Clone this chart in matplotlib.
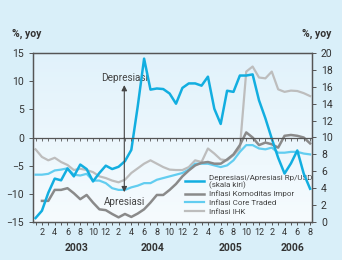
import numpy as np
import matplotlib
matplotlib.use("Agg")
import matplotlib.pyplot as plt
from matplotlib.lines import Line2D
from matplotlib.colors import LinearSegmentedColormap

# months from Jan 2003 (0) to Aug 2006 (43)
months = np.arange(44)
month_labels = ["" if (m % 12 + 1) % 2 else str(m % 12 + 1) for m in months]
years = ["2003", "2004", "2005", "2006"]
year_pos = [6.5, 18.4, 30.5, 40.3]

# left axis: depreciation/appreciation Rp/USD
kurs = [-14.3, -13.0, -9.8, -7.3, -7.6, -5.5, -6.9, -4.8, -5.6, -7.8, -6.3, -5.0,
        -5.6, -5.2, -4.2, -2.2, 5.5, 14.0, 8.5, 8.7, 8.6, 7.8, 6.0, 8.8,
        9.6, 9.6, 9.2, 10.8, 5.1, 2.4, 8.3, 8.1, 11.0, 11.0, 11.2, 6.6,
        3.4, -0.2, -3.6, -6.4, -4.6, -2.3, -6.4, -9.1]

# right axis: inflation series
impor = [np.nan, 2.5, 2.5, 3.8, 3.8, 4.0, 3.4, 2.7, 3.2, 2.3, 1.5, 1.4,
         0.95, 0.55, 0.95, 0.6, 1.0, 1.5, 2.3, 3.2, 3.2, 3.8, 4.5, 5.4,
         6.1, 6.7, 7.0, 7.1, 6.9, 6.9, 7.4, 8.0, 9.1, 10.6, 10.0, 9.1,
         9.4, 9.2, 8.8, 10.2, 10.3, 10.2, 10.0, 9.3]
core = [5.6, 5.6, 5.7, 6.1, 6.2, 6.35, 5.6, 5.5, 5.7, 4.9, 4.9, 4.6,
        4.0, 3.8, 3.8, 4.1, 4.3, 4.6, 4.6, 5.0, 5.2, 5.4, 5.6, 5.8,
        6.2, 6.9, 6.9, 6.9, 6.7, 6.5, 6.7, 7.3, 8.3, 9.1, 9.1, 8.7,
        8.6, 8.8, 8.2, 8.2, 8.3, 8.3, 8.1, 8.0]
ihk = [8.6, 7.7, 7.3, 7.6, 7.1, 6.75, 6.15, 6.3, 6.15, 5.9, 5.4, 5.2,
       4.9, 4.7, 5.0, 5.8, 6.35, 6.9, 7.3, 6.9, 6.5, 6.2, 6.15, 6.15,
       6.5, 7.3, 7.1, 8.7, 8.1, 7.4, 7.3, 7.9, 8.7, 17.8, 18.4, 17.1,
       17.0, 17.8, 15.7, 15.4, 15.55, 15.5, 15.25, 14.9]

c_kurs = "#12aee0"
c_impor = "#8a8a8a"
c_core = "#62cdf0"
c_ihk = "#bdbdbd"
c_text = "#333333"
c_axis = "#555555"

plt.rcParams["font.family"] = ["Roboto", "DejaVu Sans"]

fig = plt.figure(figsize=(3.42, 2.6), dpi=100, facecolor="#d9eff9")
rect = [33 / 342, 38 / 260, 279 / 342, 169 / 260]

# plot area gradient on its own background axes
bg = fig.add_axes(rect, zorder=0)
bg.imshow(np.linspace(0, 1, 100).reshape(-1, 1), extent=[0, 1, 0, 1], aspect="auto",
          cmap=LinearSegmentedColormap.from_list("g", ["#f6fbfe", "#e1f2fb"]),
          origin="lower")
bg.set_axis_off()

ax = fig.add_axes(rect, zorder=2)
ax.patch.set_visible(False)
ax2 = ax.twinx()
ax2.set_zorder(1)
ax2.patch.set_visible(False)

ax2.plot(months, ihk, color=c_ihk, lw=1.6, zorder=2)
ax2.plot(months, core, color=c_core, lw=1.6, zorder=3)
ax2.plot(months, impor, color=c_impor, lw=1.8, zorder=4)
ax2.set_ylim(0, 20)
ax2.set_yticks(np.arange(0, 21, 2))

ax.plot(months, kurs, color=c_kurs, lw=1.8, zorder=5)
ax.set_ylim(-15, 15)
ax.set_xlim(-0.4, 43.3)
ax.set_yticks(np.arange(-15, 16, 5))

# zero line with month ticks
ax.axhline(0, color=c_axis, lw=0.9, zorder=6)
ax.vlines(months, -0.55, 0, color=c_axis, lw=0.6, zorder=6)

ax.set_xticks(months)
ax.set_xticklabels(month_labels)
for a in (ax, ax2):
    for s in a.spines.values():
        s.set_color(c_axis)
        s.set_linewidth(0.9)
    a.tick_params(colors=c_axis, labelcolor=c_text, labelsize=7.5, length=3, width=0.7)
ax.tick_params(axis="x", labelsize=6.5, length=2.5, pad=2)

for yr, p in zip(years, year_pos):
    ax.text(p, -19.6, yr, ha="center", va="center", fontsize=7.5,
            fontweight="bold", color=c_text)

# depreciation / appreciation arrow
ax.annotate("", xy=(13.9, 9.3), xytext=(13.9, 0),
            arrowprops=dict(arrowstyle="-|>", color="#444444", lw=0.8,
                            mutation_scale=8, shrinkA=0, shrinkB=0), zorder=7)
ax.annotate("", xy=(13.9, -9.7), xytext=(13.9, 0),
            arrowprops=dict(arrowstyle="-|>", color="#444444", lw=0.8,
                            mutation_scale=8, shrinkA=0, shrinkB=0), zorder=7)
ax.text(14.0, 10.5, "Depresiasi", ha="center", va="center", fontsize=7.2, color="#444444")
ax.text(14.0, -11.5, "Apresiasi", ha="center", va="center", fontsize=7.2, color="#444444")

handles = [Line2D([], [], color=c_kurs, lw=1.8),
           Line2D([], [], color=c_impor, lw=1.8),
           Line2D([], [], color=c_core, lw=1.6),
           Line2D([], [], color=c_ihk, lw=1.6)]
labels = ["Depresiasi/Apresiasi Rp/USD\n(skala kiri)", "Inflasi Komoditas Impor",
          "Inflasi Core Traded", "Inflasi IHK"]
leg = ax.legend(handles, labels, loc="lower left", bbox_to_anchor=(0.525, 0.01),
                frameon=False, fontsize=5.8, handlelength=2.4, handletextpad=0.6,
                labelspacing=0.25, borderaxespad=0.3)
leg.set_zorder(1)
for t in leg.get_texts():
    t.set_color("#444444")
    t.set_linespacing(1.0)

fig.text(12 / 342, 1 - 34 / 260, "%, yoy", ha="left", va="center",
         fontsize=7.5, fontweight="bold", color=c_text)
fig.text(331 / 342, 1 - 34 / 260, "%, yoy", ha="right", va="center",
         fontsize=7.5, fontweight="bold", color=c_text)

fig.savefig("out.png", dpi=100, facecolor=fig.get_facecolor())
